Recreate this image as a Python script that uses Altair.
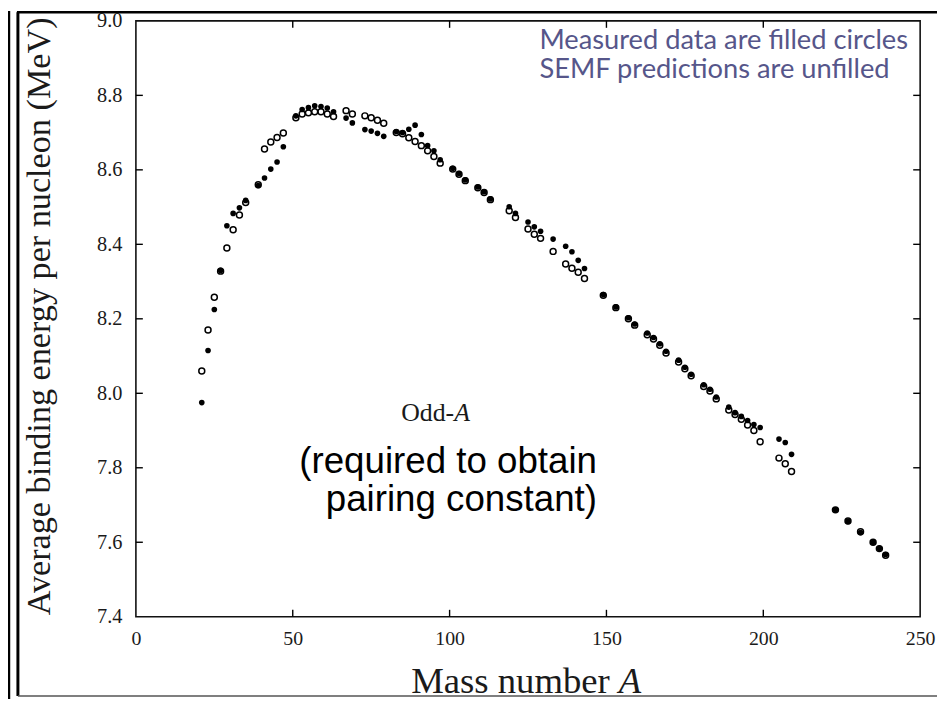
import altair as alt
import pandas as pd

# ---- data ----
mass_numbers = [21, 23, 25, 27, 29, 31, 33, 35, 39, 41, 43, 45, 47, 51, 53, 55, 57, 59, 61, 63,
                67, 69, 73, 75, 77, 79, 83, 85, 87, 89, 91, 93, 95, 97, 101, 103, 105, 109, 111, 113,
                119, 121, 125, 127, 129, 133, 137, 139, 141, 143, 149, 153, 157, 159, 163, 165, 167, 169,
                173, 175, 177, 181, 183, 185, 189, 191, 193, 195, 197, 199, 205, 207, 209,
                223, 227, 231, 235, 237, 239]
measured = [7.975, 8.115, 8.225, 8.330, 8.450, 8.483, 8.498, 8.518, 8.558, 8.578, 8.602, 8.621, 8.662,
            8.745, 8.762, 8.767, 8.772, 8.770, 8.766, 8.756,
            8.739, 8.726, 8.708, 8.704, 8.698, 8.690, 8.703, 8.700, 8.709, 8.720, 8.695, 8.665, 8.651, 8.627,
            8.604, 8.590, 8.573, 8.554, 8.541, 8.522,
            8.501, 8.483, 8.460, 8.447, 8.435, 8.414, 8.395, 8.380, 8.357, 8.335, 8.265, 8.232, 8.203, 8.186,
            8.162, 8.150, 8.133, 8.113,
            8.089, 8.070, 8.051, 8.023, 8.011, 7.990, 7.963, 7.948, 7.938, 7.927, 7.916, 7.908, 7.877, 7.868, 7.836,
            7.687, 7.656, 7.626, 7.600, 7.584, 7.567]
semf = [8.060, 8.170, 8.258, 8.328, 8.390, 8.439, 8.479, 8.512, 8.560, 8.656, 8.675, 8.687, 8.699,
        8.740, 8.750, 8.753, 8.756, 8.756, 8.750, 8.743,
        8.759, 8.750, 8.745, 8.740, 8.733, 8.725, 8.700, 8.697, 8.686, 8.676, 8.665, 8.651, 8.636, 8.618,
        8.602, 8.588, 8.571, 8.552, 8.539, 8.520,
        8.490, 8.472, 8.441, 8.427, 8.416, 8.381, 8.347, 8.336, 8.325, 8.308, 8.263, 8.230, 8.200, 8.183,
        8.157, 8.146, 8.129, 8.108,
        8.084, 8.066, 8.047, 8.018, 8.006, 7.985, 7.955, 7.943, 7.930, 7.915, 7.900, 7.870, 7.826, 7.811, 7.790,
        7.687, 7.657, 7.628, 7.600, 7.583, 7.565]

x_label_values = [0, 50, 100, 150, 200, 250]
y_label_values = [7.4, 7.6, 7.8, 8.0, 8.2, 8.4, 8.6, 8.8, 9.0]
x_tick_values = [50, 100, 150, 200]
y_tick_values = [7.6, 7.8, 8.0, 8.2, 8.4, 8.6, 8.8]

x_title = "Mass number"
x_title_italic = "A"
y_title = "Average binding energy per nucleon (MeV)"
legend_lines = ["Measured data are filled circles", "SEMF predictions are unfilled"]
odd_text = "Odd-"
odd_italic = "A"
note_lines = ["(required to obtain", "pairing constant)"]

# ---- chart ----
W, H = 791, 601
PAD = {"left": 129, "top": 10, "right": 17, "bottom": 83}
SERIF = "Liberation Serif"

df = pd.DataFrame({"A": mass_numbers, "measured": measured, "semf": semf})
xs = alt.Scale(domain=[0, 250], nice=False, zero=False)
ys = alt.Scale(domain=[7.4, 9.0], nice=False, zero=False)

x_axis = alt.Axis(values=x_label_values, ticks=False, grid=False, domain=False, format="d",
                  labelFont=SERIF, labelFontSize=20, labelColor="#1a1a1a", labelPadding=12,
                  labelFlush=False, labelOverlap=False, title=None)
y_axis = alt.Axis(values=y_label_values, ticks=False, grid=False, domain=False, format=".1f",
                  labelFont=SERIF, labelFontSize=20.5, labelColor="#1a1a1a", labelPadding=14,
                  labelFlush=False, labelOverlap=False, title=None)

filled = alt.Chart(df).mark_circle(size=32, color="black", opacity=1).encode(
    x=alt.X("A:Q", scale=xs, axis=x_axis),
    y=alt.Y("measured:Q", scale=ys, axis=y_axis),
)
unfilled = alt.Chart(df).mark_point(shape="circle", filled=False, size=36, strokeWidth=1.5,
                                    color="black", opacity=1).encode(
    x=alt.X("A:Q", scale=xs, axis=x_axis),
    y=alt.Y("semf:Q", scale=ys, axis=y_axis),
)

dxt = pd.DataFrame({"t": x_tick_values})
dyt = pd.DataFrame({"t": y_tick_values})
tick_style = dict(color="black", strokeWidth=1.4)
bottom_ticks = alt.Chart(dxt).mark_rule(**tick_style).encode(
    x=alt.X("t:Q", scale=xs, axis=x_axis), y=alt.value(H), y2=alt.value(H - 7))
top_ticks = alt.Chart(dxt).mark_rule(**tick_style).encode(
    x=alt.X("t:Q", scale=xs, axis=x_axis), y=alt.value(0), y2=alt.value(7))
left_ticks = alt.Chart(dyt).mark_rule(**tick_style).encode(
    y=alt.Y("t:Q", scale=ys, axis=y_axis), x=alt.value(0), x2=alt.value(7))
right_ticks = alt.Chart(dyt).mark_rule(**tick_style).encode(
    y=alt.Y("t:Q", scale=ys, axis=y_axis), x=alt.value(W), x2=alt.value(W - 7))

dummy = pd.DataFrame({"k": [0]})


def text(t, x, y, **kw):
    return alt.Chart(dummy).mark_text(text=t, **kw).encode(x=alt.value(x), y=alt.value(y))


texts = [
    text(y_title, -97, 298, angle=270, font=SERIF, fontSize=34.5, color="#1a1a1a", align="center",
         baseline="middle"),
    text(x_title, 478, 667, font=SERIF, fontSize=37, color="#1a1a1a", align="right", baseline="middle"),
    text(x_title_italic, 487, 667, font=SERIF, fontSize=37, fontStyle="italic", color="#1a1a1a",
         align="left", baseline="middle"),
    text(legend_lines[0], 407, 20, font="Lato", fontSize=27.5, color="#56568a", align="left",
         baseline="middle"),
    text(legend_lines[1], 407, 50, font="Lato", fontSize=27.5, color="#56568a", align="left",
         baseline="middle"),
    text(odd_text, 321, 396, font=SERIF, fontSize=26, color="#1a1a1a", align="right", baseline="middle"),
    text(odd_italic, 321, 396, font=SERIF, fontSize=26, fontStyle="italic", color="#1a1a1a",
         align="left", baseline="middle"),
    alt.Chart(dummy).mark_text(text=note_lines, font="Liberation Sans", fontSize=37, lineHeight=38,
                               color="black", align="right", baseline="middle").encode(
        x=alt.value(465), y=alt.value(445)),
]


def hline(x1, x2, y, **kw):
    return alt.Chart(dummy).mark_rule(**kw).encode(x=alt.value(x1), x2=alt.value(x2), y=alt.value(y))


def vline(x, y1, y2, **kw):
    return alt.Chart(dummy).mark_rule(**kw).encode(x=alt.value(x), y=alt.value(y1), y2=alt.value(y2))


frame = [
    vline(-128, -10, 684, color="black", strokeWidth=2.5),
    vline(-119, -8.75, 681, color="black", strokeWidth=3),
    hline(-120, 810, -8.75, color="black", strokeWidth=2.5),
    hline(-119, 810, 681, color="#555555", strokeWidth=1.5),
]

chart = alt.layer(
    *frame, bottom_ticks, top_ticks, left_ticks, right_ticks, filled, unfilled, *texts
).properties(
    width=W, height=H, padding=PAD, background="white",
    autosize=alt.AutoSizeParams(type="none"),
).configure_view(
    stroke="#111111", strokeWidth=1.6
)

chart.save("out.html", embed_options={"renderer": "svg", "actions": False})
